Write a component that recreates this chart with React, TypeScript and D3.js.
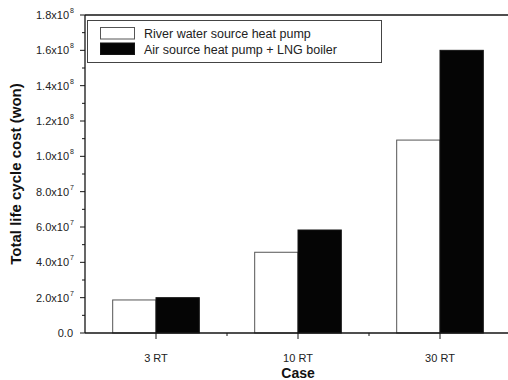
import React from 'react';
import * as d3 from 'd3';

// chart values
const cases = ['3 RT', '10 RT', '30 RT'];
const riverWater = [1.87e7, 4.57e7, 1.092e8];
const airSource = [2.0e7, 5.83e7, 1.6e8];
const seriesNames = ['River water source heat pump', 'Air source heat pump + LNG boiler'];
const yTicks = [0, 2e7, 4e7, 6e7, 8e7, 1e8, 1.2e8, 1.4e8, 1.6e8, 1.8e8];

const W = 508;
const H = 380;
const margin = {top: 15, right: -3, bottom: 47, left: 85};
const ink = '#151515';
const font = '"Liberation Sans", Arial, sans-serif';

function tickLabel(v: number) {
    if (v === 0) return {m: '0.0', e: ''};
    const e = Math.floor(Math.log10(v) + 1e-9);
    return {m: (v / Math.pow(10, e)).toFixed(1) + 'x10', e: String(e)};
}

const App = () => {
    const x = d3.scaleLinear().domain([0.5, cases.length + 0.5]).range([margin.left, W - margin.right]);
    const y = d3.scaleLinear().domain([0, 1.8e8]).range([H - margin.bottom, margin.top]);
    const barW = (x(1) - x(0)) * 0.305;
    const y0 = y(0);
    const minorY = d3.range(1e7, 1.8e8, 2e7);
    const minorX = d3.range(1.5, cases.length, 1);

    return (
        <svg width={W} height={H} style={{position: 'absolute', left: 0, top: 0, background: '#fff'}}
             fontFamily={font}>
            {/* bars */}
            {cases.map((c, i) => (
                <g key={c}>
                    <rect x={x(i + 1) - barW} y={y(riverWater[i])} width={barW} height={y0 - y(riverWater[i])}
                          fill="#fff" stroke="#555" strokeWidth={1}/>
                    <rect x={x(i + 1)} y={y(airSource[i])} width={barW} height={y0 - y(airSource[i])}
                          fill="#050505" stroke={ink} strokeWidth={1}/>
                </g>
            ))}

            {/* axes frame */}
            <line x1={margin.left} x2={margin.left} y1={margin.top} y2={y0} stroke={ink} strokeWidth={1.3}/>
            <line x1={margin.left} x2={W} y1={margin.top} y2={margin.top} stroke={ink} strokeWidth={1.3}/>
            <line x1={margin.left} x2={W} y1={y0} y2={y0} stroke={ink} strokeWidth={1.3}/>

            {/* y ticks */}
            {yTicks.map(t => {
                const l = tickLabel(t);
                return (
                    <g key={t}>
                        <line x1={margin.left - 5} x2={margin.left} y1={y(t)} y2={y(t)} stroke={ink}/>
                        <text x={l.e ? 69 : 73} y={y(t) + 4} textAnchor="end" fontSize={11} fill="#222">
                            {l.m}
                        </text>
                        {l.e && <text x={70} y={y(t) - 2} fontSize={7} fill="#222">{l.e}</text>}
                    </g>
                );
            })}
            {minorY.map(t => (
                <line key={t} x1={margin.left - 3} x2={margin.left} y1={y(t)} y2={y(t)} stroke={ink}/>
            ))}

            {/* x ticks */}
            {cases.map((c, i) => (
                <g key={c}>
                    <line x1={x(i + 1)} x2={x(i + 1)} y1={y0} y2={y0 + 6} stroke={ink}/>
                    <text x={x(i + 1)} y={y0 + 29} textAnchor="middle" fontSize={11} fill="#222">{c}</text>
                </g>
            ))}
            {minorX.map(v => (
                <line key={v} x1={x(v)} x2={x(v)} y1={y0} y2={y0 + 3} stroke={ink}/>
            ))}

            {/* axis titles */}
            <text x={x(2)} y={378} textAnchor="middle" fontSize={14} fontWeight="bold" fill="#111">Case</text>
            <text transform={`translate(21,${(margin.top + y0) / 2}) rotate(-90)`} textAnchor="middle"
                  fontSize={15} fontWeight="bold" fill="#111">Total life cycle cost (won)</text>

            {/* legend */}
            <rect x={87.5} y={20.5} width={294} height={42} fill="#fff" stroke="#444" strokeWidth={1}/>
            {seriesNames.map((s, i) => (
                <g key={s}>
                    <rect x={100.5} y={27.5 + i * 15.5} width={34} height={11.5}
                          fill={i === 0 ? '#fff' : '#050505'} stroke={i === 0 ? '#555' : ink}/>
                    <text x={144} y={38 + i * 16} fontSize={12.5} fill="#222">{s}</text>
                </g>
            ))}
        </svg>
    );
};

export default App;
